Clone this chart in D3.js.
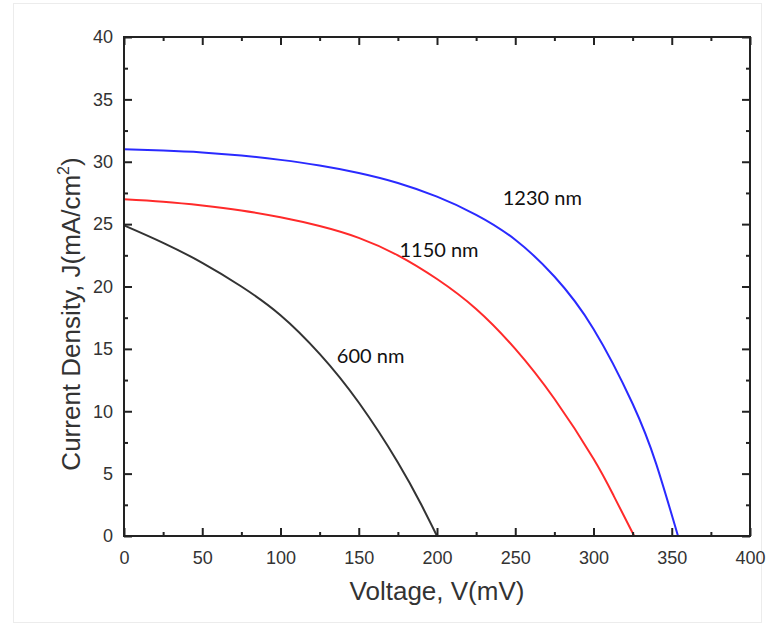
<!DOCTYPE html>
<html>
<head>
<meta charset="utf-8">
<script src="https://cdn.jsdelivr.net/npm/d3@7"></script>
<style>
  html, body { margin: 0; padding: 0; background: #fff; }
  svg { display: block; }
  .tick-label { font-family: "Liberation Sans", Arial, sans-serif; font-size: 18px; fill: #333; }
  .axis-title { font-family: "Liberation Sans", Arial, sans-serif; font-size: 26px; fill: #333; }
  .curve-label { font-family: Lato, "Open Sans", sans-serif; font-size: 20px; fill: #111; }
</style>
</head>
<body>
<script>
// J-V curves for three wavelengths
const voltage1230 = [0, 25, 50, 75, 100, 125, 150, 175, 200, 225, 250, 275, 300, 325, 340, 354];
const current1230 = [31.0, 30.9, 30.75, 30.5, 30.15, 29.7, 29.1, 28.3, 27.2, 25.75, 23.75, 20.8, 16.6, 10.6, 5.8, 0];

const voltage1150 = [0, 25, 50, 75, 100, 125, 150, 175, 200, 225, 250, 275, 300, 313, 326];
const current1150 = [27.0, 26.8, 26.5, 26.1, 25.55, 24.85, 23.9, 22.5, 20.6, 18.2, 15.0, 11.0, 6.2, 3.2, 0];

const voltage600 = [0, 25, 50, 75, 100, 125, 150, 175, 190, 200];
const current600 = [24.9, 23.5, 21.9, 20.0, 17.7, 14.6, 10.7, 5.9, 2.5, 0];

const seriesNames = ["1230 nm", "1150 nm", "600 nm"];
const seriesColors = ["#2a2aff", "#ff2a2a", "#333333"];
// label anchor points in data units (V, J)
const labelV = [242, 176, 136];
const labelJ = [26.5, 22.4, 13.9];

const xTicks = [0, 50, 100, 150, 200, 250, 300, 350, 400];
const yTicks = [0, 5, 10, 15, 20, 25, 30, 35, 40];
const xMinor = [25, 75, 125, 175, 225, 275, 325, 375];
const yMinor = [2.5, 7.5, 12.5, 17.5, 22.5, 27.5, 32.5, 37.5];

const W = 769, H = 637;
const plotL = 124, plotR = 750, plotT = 37, plotB = 536;

const svg = d3.select("body").append("svg").attr("width", W).attr("height", H);
svg.append("rect").attr("width", W).attr("height", H).attr("fill", "#fff");
// faint outer border of the figure
svg.append("rect").attr("x", 13.5).attr("y", 3.5).attr("width", 748).attr("height", 619)
  .attr("fill", "none").attr("stroke", "#ececec").attr("stroke-width", 1);

const x = d3.scaleLinear().domain([0, 400]).range([plotL, plotR]);
const y = d3.scaleLinear().domain([0, 40]).range([plotB, plotT]);

const series = [
  { name: seriesNames[0], color: seriesColors[0], pts: voltage1230.map((v, i) => [v, current1230[i]]) },
  { name: seriesNames[1], color: seriesColors[1], pts: voltage1150.map((v, i) => [v, current1150[i]]) },
  { name: seriesNames[2], color: seriesColors[2], pts: voltage600.map((v, i) => [v, current600[i]]) }
];

const line = d3.line().x(d => x(d[0])).y(d => y(d[1])).curve(d3.curveNatural);

svg.append("g").selectAll("path").data(series).join("path")
  .attr("d", d => line(d.pts))
  .attr("fill", "none")
  .attr("stroke", d => d.color)
  .attr("stroke-width", 2);

// axes: ticks inward on all four sides
const majorLen = 8, minorLen = 4;
function styleAxis(g) {
  g.select(".domain").remove();
  g.selectAll(".tick line").attr("stroke", "#222").attr("stroke-width", 2);
}

svg.append("g").attr("transform", `translate(0,${plotB})`)
  .call(d3.axisBottom(x).tickValues(xTicks).tickSize(-majorLen).tickPadding(majorLen + 7).tickFormat(d3.format("d")))
  .call(styleAxis)
  .call(g => g.selectAll(".tick text").attr("class", "tick-label").attr("fill", null));
svg.append("g").attr("transform", `translate(0,${plotB})`)
  .call(d3.axisBottom(x).tickValues(xMinor).tickSize(-minorLen).tickFormat(""))
  .call(styleAxis);

svg.append("g").attr("transform", `translate(0,${plotT})`)
  .call(d3.axisTop(x).tickValues(xTicks).tickSize(-majorLen).tickFormat(""))
  .call(styleAxis);
svg.append("g").attr("transform", `translate(0,${plotT})`)
  .call(d3.axisTop(x).tickValues(xMinor).tickSize(-minorLen).tickFormat(""))
  .call(styleAxis);

svg.append("g").attr("transform", `translate(${plotL},0)`)
  .call(d3.axisLeft(y).tickValues(yTicks).tickSize(-majorLen).tickPadding(majorLen + 3).tickFormat(d3.format("d")))
  .call(styleAxis)
  .call(g => g.selectAll(".tick text").attr("class", "tick-label").attr("fill", null));
svg.append("g").attr("transform", `translate(${plotL},0)`)
  .call(d3.axisLeft(y).tickValues(yMinor).tickSize(-minorLen).tickFormat(""))
  .call(styleAxis);

svg.append("g").attr("transform", `translate(${plotR},0)`)
  .call(d3.axisRight(y).tickValues(yTicks).tickSize(-majorLen).tickFormat(""))
  .call(styleAxis);
svg.append("g").attr("transform", `translate(${plotR},0)`)
  .call(d3.axisRight(y).tickValues(yMinor).tickSize(-minorLen).tickFormat(""))
  .call(styleAxis);

// frame
svg.append("rect").attr("x", plotL).attr("y", plotT)
  .attr("width", plotR - plotL).attr("height", plotB - plotT)
  .attr("fill", "none").attr("stroke", "#222").attr("stroke-width", 2);

// curve labels
svg.append("g").selectAll("text").data(series).join("text")
  .attr("class", "curve-label")
  .attr("x", (d, i) => x(labelV[i]))
  .attr("y", (d, i) => y(labelJ[i]))
  .text(d => d.name);

// axis titles
svg.append("text").attr("class", "axis-title")
  .attr("x", (plotL + plotR) / 2).attr("y", 600)
  .attr("text-anchor", "middle")
  .text("Voltage, V(mV)");

const yt = svg.append("text").attr("class", "axis-title")
  .attr("transform", "translate(80,314) rotate(-90)")
  .attr("text-anchor", "middle");
yt.append("tspan").text("Current Density, J(mA/cm");
yt.append("tspan").attr("font-size", "16px").attr("dy", "-11").text("2");
yt.append("tspan").attr("dy", "11").text(")");
</script>
</body>
</html>
